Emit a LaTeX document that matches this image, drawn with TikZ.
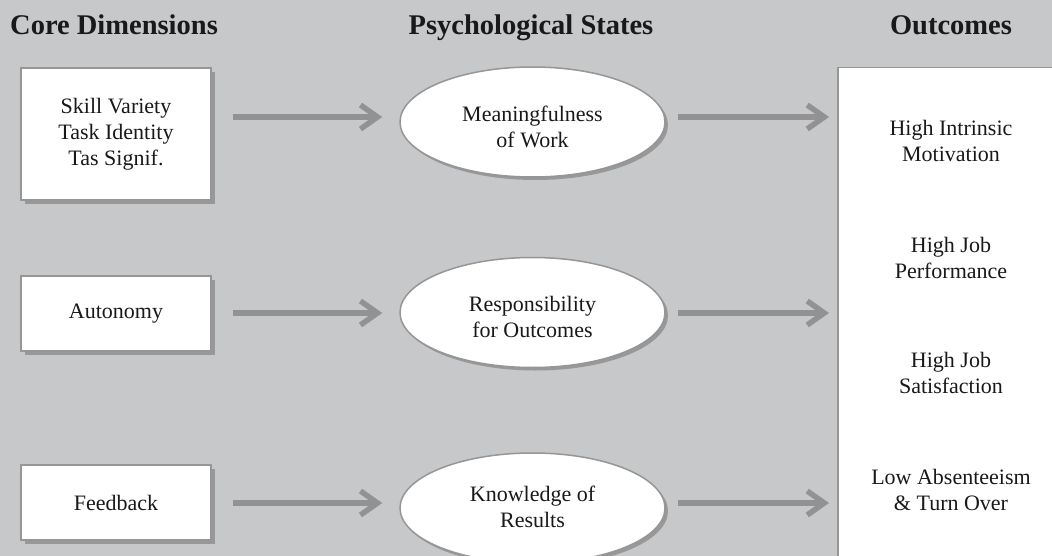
\documentclass[tikz,border=0pt]{standalone}
\usepackage{fontspec}
\setmainfont{Liberation Serif}
\usetikzlibrary{shapes.geometric,arrows.meta,shadows}
\definecolor{bg}{RGB}{199,200,202}
\definecolor{bordergray}{RGB}{150,150,150}
\definecolor{arrowgray}{RGB}{146,146,146}
\definecolor{shadowgray}{RGB}{152,152,152}
\tikzset{
  txt/.style={font=\fontsize{22}{26}\selectfont, align=center, text=black!90},
  head/.style={font=\fontsize{28.5}{32}\selectfont\bfseries, text=black!90, inner sep=0pt, anchor=base},
  dimbox/.style={draw=bordergray, line width=1.5pt, fill=white, minimum width=190pt,
    drop shadow={shadow xshift=4pt, shadow yshift=-4pt, fill=shadowgray, opacity=1},
    txt},
  stateell/.style={ellipse, draw=bordergray, line width=1.5pt, fill=white,
    minimum width=265pt, minimum height=110pt, inner sep=0pt,
    drop shadow={shadow xshift=3pt, shadow yshift=-3pt, fill=shadowgray, opacity=1}},
  outbox/.style={draw=bordergray, line width=1.5pt, fill=white, inner sep=0pt},
  arr/.style={draw=arrowgray, line width=5.5pt,
    -{Straight Barb[length=17pt,width=24pt]}},
}
\begin{document}
\begin{tikzpicture}[x=1pt,y=-1pt]
\useasboundingbox (0,0) rectangle (1052,556);
\fill[bg] (0,0) rectangle (1052,556);

% headings
\node[head, anchor=base west] (h1) at (10,35) {Core Dimensions};
\node[head] (h2) at (531,35) {Psychological States};
\node[head] (h3) at (951,35) {Outcomes};

% core dimensions
\node[dimbox, minimum height=132pt] (b1) at (116,134) {Skill Variety\\Task Identity\\Tas Signif.};
\node[dimbox, minimum height=75pt] (b2) at (116,313.5) {Autonomy};
\node[dimbox, minimum height=75pt] (b3) at (116,502.5) {Feedback};

% psychological states
\node[stateell] (m1) at (532.5,122) {};
\node[stateell] (m2) at (532.5,312.5) {};
\node[stateell] (m3) at (532.5,508) {};
\node[txt] (m1t) at (532.5,127) {Meaningfulness\\of Work};
\node[txt] (m2t) at (532.5,317) {Responsibility\\for Outcomes};
\node[txt] (m3t) at (532.5,507) {Knowledge of\\Results};

% outcomes
\node[outbox, anchor=north west, minimum width=240pt, minimum height=510pt] (out) at (837,67) {};
\node[txt] (o1) at (951,141) {High Intrinsic\\Motivation};
\node[txt] (o2) at (951,258) {High Job\\Performance};
\node[txt] (o3) at (951,373) {High Job\\Satisfaction};
\node[txt] (o4) at (951,490) {Low Absenteeism\\\& Turn Over};

% arrows core -> states
\draw[arr] ([xshift=21pt,yshift=17pt]b1.east) coordinate (s1) -- ([xshift=-17pt]m1.west |- s1);
\draw[arr] ([xshift=21pt,yshift=0.5pt]b2.east) coordinate (s2) -- ([xshift=-17pt]m2.west |- s2);
\draw[arr] ([xshift=21pt,yshift=-0.5pt]b3.east) coordinate (s3) -- ([xshift=-17pt]m3.west |- s3);

% arrows states -> outcomes
\draw[arr] ([xshift=12pt,yshift=5pt]m1.east) coordinate (t1) -- ([xshift=-8pt]out.west |- t1);
\draw[arr] ([xshift=12pt,yshift=-0.5pt]m2.east) coordinate (t2) -- ([xshift=-8pt]out.west |- t2);
\draw[arr] ([xshift=12pt,yshift=5pt]m3.east) coordinate (t3) -- ([xshift=-8pt]out.west |- t3);
\end{tikzpicture}
\end{document}
